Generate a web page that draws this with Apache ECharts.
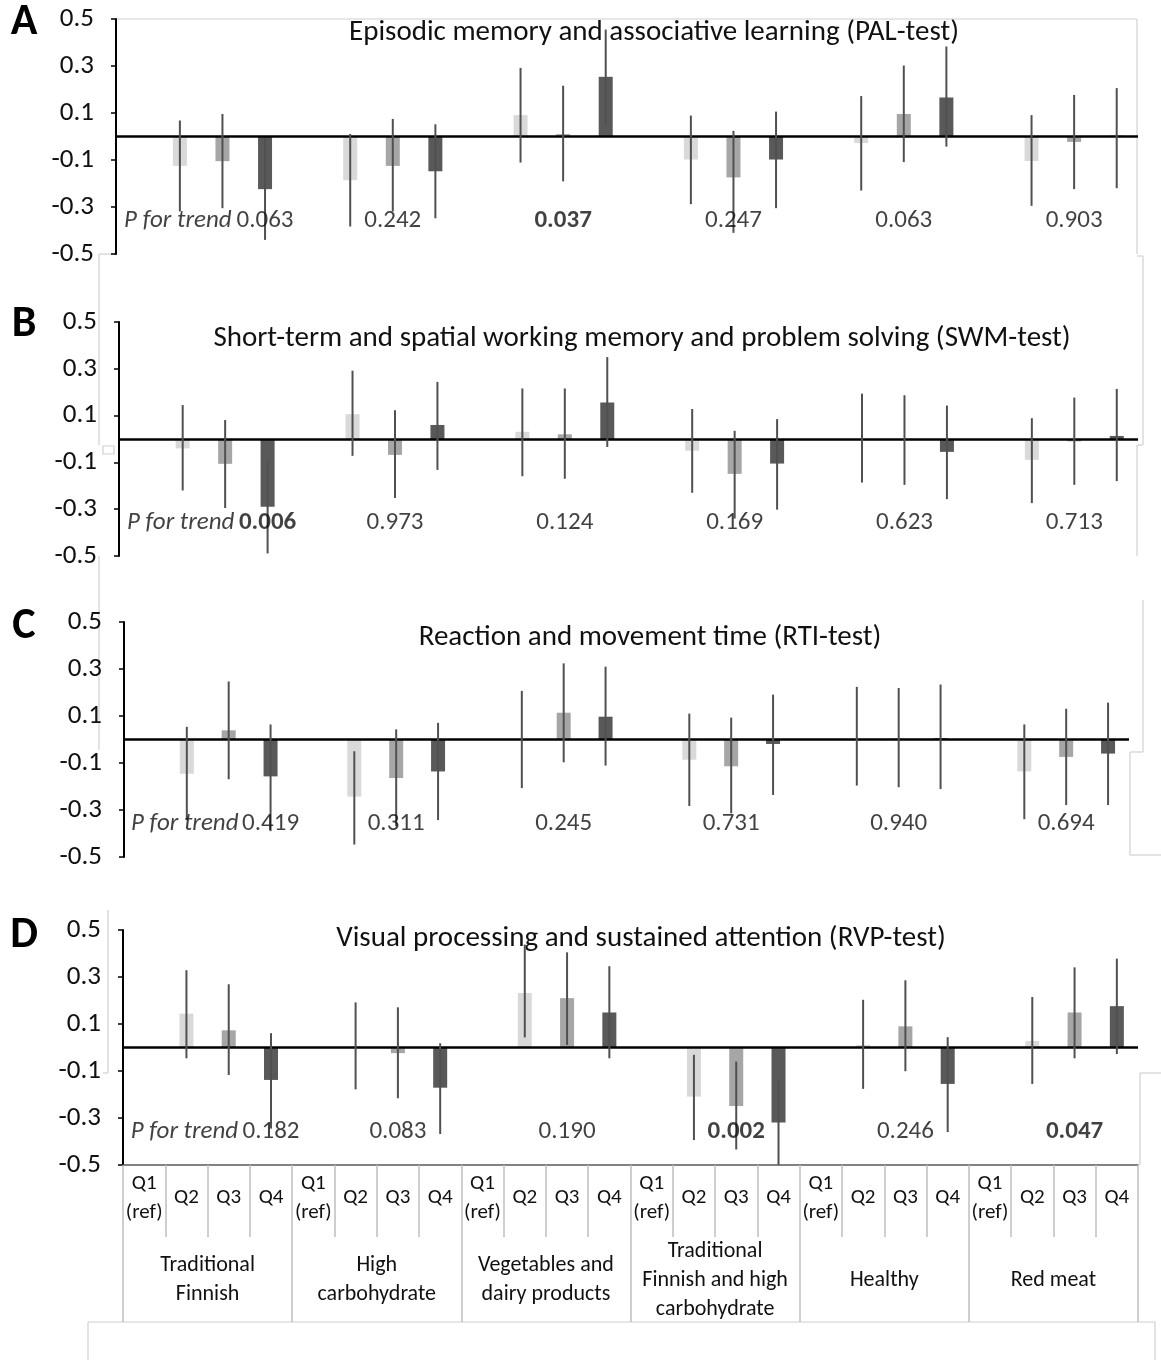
<!DOCTYPE html>
<html>
<head>
<meta charset="utf-8">
<title>Dietary patterns and cognitive tests</title>
<script src="https://cdn.jsdelivr.net/npm/echarts@6/dist/echarts.min.js"></script>
<style>
    html, body { margin: 0; padding: 0; background: #fff; }
    #chart { width: 1161px; height: 1360px; }
</style>
</head>
<body>
<div id="chart"></div>
<script>
// x categories
var quartiles = ['Q1\n(ref)', 'Q2', 'Q3', 'Q4'];
var patterns = ['Traditional\nFinnish', 'High\ncarbohydrate', 'Vegetables and\ndairy products',
    'Traditional\nFinnish and high\ncarbohydrate', 'Healthy', 'Red meat'];

// values per pattern: Q2, Q3, Q4 (Q1 is the reference, no bar)
// A - PAL-test
var palEst  = [-0.125, -0.105, -0.224,  -0.186, -0.125, -0.148,  0.091, 0.010, 0.254,  -0.098, -0.174, -0.098,  -0.028, 0.096, 0.166,  -0.104, -0.023, 0.003];
var palLow  = [-0.319, -0.305, -0.440,  -0.383, -0.319, -0.348,  -0.111, -0.191, 0.050,  -0.288, -0.410, -0.305,  -0.230, -0.109, -0.043,  -0.295, -0.224, -0.220];
var palHigh = [0.068, 0.096, -0.008,  0.011, 0.075, 0.052,  0.292, 0.216, 0.455,  0.089, 0.024, 0.106,  0.172, 0.302, 0.383,  0.091, 0.177, 0.206];
var palP    = ['0.063', '0.242', '0.037', '0.247', '0.063', '0.903'];

// B - SWM-test
var swmEst  = [-0.040, -0.106, -0.290,  0.106, -0.068, 0.060,  0.031, 0.020, 0.156,  -0.050, -0.149, -0.105,  0.000, 0.000, -0.055,  -0.089, -0.010, 0.013];
var swmLow  = [-0.220, -0.295, -0.489,  -0.072, -0.252, -0.132,  -0.159, -0.170, -0.034,  -0.230, -0.340, -0.302,  -0.186, -0.196, -0.257,  -0.274, -0.196, -0.180];
var swmHigh = [0.145, 0.081, -0.090,  0.292, 0.123, 0.244,  0.216, 0.216, 0.350,  0.128, 0.035, 0.085,  0.194, 0.187, 0.143,  0.089, 0.177, 0.214];
var swmP    = ['0.006', '0.973', '0.124', '0.169', '0.623', '0.713'];

// C - RTI-test
var rtiEst  = [-0.146, 0.039, -0.157,  -0.243, -0.164, -0.136,  0.000, 0.114, 0.097,  -0.086, -0.114, -0.019,  0.003, 0.004, 0.006,  -0.136, -0.074, -0.060];
var rtiLow  = [-0.343, -0.169, -0.390,  -0.447, -0.369, -0.343,  -0.207, -0.097, -0.111,  -0.283, -0.314, -0.236,  -0.196, -0.203, -0.211,  -0.339, -0.279, -0.279];
var rtiHigh = [0.054, 0.247, 0.064,  -0.050, 0.043, 0.071,  0.207, 0.324, 0.310,  0.110, 0.093, 0.191,  0.224, 0.219, 0.234,  0.064, 0.131, 0.157];
var rtiP    = ['0.419', '0.311', '0.245', '0.731', '0.940', '0.694'];

// D - RVP-test
var rvpEst  = [0.144, 0.073, -0.138,  0.004, -0.024, -0.171,  0.232, 0.210, 0.149,  -0.209, -0.249, -0.319,  0.011, 0.090, -0.155,  0.028, 0.149, 0.176];
var rvpLow  = [-0.046, -0.117, -0.345,  -0.178, -0.216, -0.368,  0.043, 0.011, -0.046,  -0.394, -0.434, -0.500,  -0.176, -0.101, -0.360,  -0.155, -0.046, -0.028];
var rvpHigh = [0.329, 0.269, 0.061,  0.192, 0.171, 0.018,  0.438, 0.405, 0.346,  -0.031, -0.060, -0.140,  0.203, 0.286, 0.044,  0.215, 0.341, 0.378];
var rvpP    = ['0.182', '0.083', '0.190', '0.002', '0.246', '0.047'];

var FONT = 'Carlito, "Open Sans", sans-serif';
var barColors = [null, '#d9d9d9', '#a6a6a6', '#595959'];
var frame = '#d0d0d0';

var panels = [
    {letter: 'A', title: 'Episodic memory and associative learning (PAL-test)', est: palEst, low: palLow, high: palHigh, p: palP,
        grid: {left: 116, top: 19, width: 1022, height: 235}, tx: 654, ty: 33, ly: 23},
    {letter: 'B', title: 'Short-term and spatial working memory and problem solving (SWM-test)', est: swmEst, low: swmLow, high: swmHigh, p: swmP,
        grid: {left: 119, top: 322, width: 1019, height: 234}, tx: 642, ty: 339, ly: 325},
    {letter: 'C', title: 'Reaction and movement time (RTI-test)', est: rtiEst, low: rtiLow, high: rtiHigh, p: rtiP,
        grid: {left: 124, top: 622, width: 1005, height: 235}, tx: 650, ty: 638, ly: 627},
    {letter: 'D', title: 'Visual processing and sustained attention (RVP-test)', est: rvpEst, low: rvpLow, high: rvpHigh, p: rvpP,
        grid: {left: 123, top: 930, width: 1015, height: 235}, tx: 641, ty: 939, ly: 936}
];

// 24 x categories: pattern x quartile
var cats = [];
patterns.forEach(function () {
    quartiles.forEach(function (q) { cats.push(q); });
});

var option = {
    animation: false,
    textStyle: {fontFamily: FONT},
    grid: [], xAxis: [], yAxis: [], series: [], graphic: []
};

panels.forEach(function (pn, k) {
    option.grid.push(Object.assign({containLabel: false}, pn.grid));

    var isLast = k === panels.length - 1;
    option.xAxis.push({
        gridIndex: k,
        type: 'category',
        data: cats,
        position: 'bottom',
        axisLine: {show: isLast, onZero: false, lineStyle: {color: '#595959', width: 1.5}},
        axisTick: {show: isLast, interval: 0, length: 72, lineStyle: {color: '#bfbfbf', width: 1.5}},
        axisLabel: {show: isLast, interval: 0, margin: 33, verticalAlign: 'middle', lineHeight: 29,
            fontSize: 21, color: '#111', fontFamily: FONT},
        splitLine: {show: false}
    });
    option.yAxis.push({
        gridIndex: k,
        type: 'value',
        min: -0.5, max: 0.5, interval: 0.2,
        axisLine: {show: true, lineStyle: {color: '#000', width: 2}},
        axisTick: {show: true, length: 5, lineStyle: {color: '#000', width: 1.5}},
        axisLabel: {margin: 22, fontSize: 27, color: '#111', fontFamily: FONT,
            formatter: function (v) { return v.toFixed(1); }},
        splitLine: {show: false}
    });

    // bars, one per category, Q1 left empty
    var barData = [], errData = [];
    cats.forEach(function (c, i) {
        var q = i % 4, g = Math.floor(i / 4);
        if (q === 0) { barData.push('-'); return; }
        var j = g * 3 + q - 1;
        barData.push({value: pn.est[j], itemStyle: {color: barColors[q]}});
        errData.push([i, pn.low[j], pn.high[j]]);
    });

    option.series.push({
        type: 'bar',
        xAxisIndex: k, yAxisIndex: k,
        data: barData,
        barWidth: 14,
        markLine: {
            silent: true, symbol: ['none', 'none'], label: {show: false},
            lineStyle: {color: '#000', width: 2.5, type: 'solid'},
            data: [{yAxis: 0}]
        }
    });

    // confidence intervals
    option.series.push({
        type: 'custom',
        xAxisIndex: k, yAxisIndex: k,
        data: errData,
        encode: {x: 0, y: [1, 2]},
        z: 5,
        renderItem: function (params, api) {
            var a = api.coord([api.value(0), api.value(1)]);
            var b = api.coord([api.value(0), api.value(2)]);
            return {
                type: 'line',
                shape: {x1: a[0], y1: a[1], x2: b[0], y2: b[1]},
                style: {stroke: '#505050', lineWidth: 2}
            };
        }
    });

    // P for trend labels
    var pData = [{value: [1, -0.36], label: {formatter: 'P for trend', fontStyle: 'italic', offset: [-2, 0]}}];
    pn.p.forEach(function (p, g) {
        var idx = g === 0 ? 3 : g * 4 + 2;
        pData.push({value: [idx, -0.36], label: {formatter: p, fontWeight: parseFloat(p) < 0.05 ? 'bold' : 'normal'}});
    });
    option.series.push({
        type: 'scatter',
        xAxisIndex: k, yAxisIndex: k,
        symbolSize: 1,
        itemStyle: {color: 'rgba(0,0,0,0)'},
        z: 6,
        label: {show: true, position: 'inside', fontSize: 25, color: '#111', fontFamily: FONT},
        data: pData
    });

    option.graphic.push({
        type: 'text', x: pn.tx, y: pn.ty,
        style: {text: pn.title, font: '29px ' + FONT, fill: '#111', textAlign: 'center', textVerticalAlign: 'middle'}
    });
    option.graphic.push({
        type: 'text', x: 24, y: pn.ly,
        style: {text: pn.letter, font: 'bold 44px ' + FONT, fill: '#000', textAlign: 'center', textVerticalAlign: 'middle'}
    });
});

// second level of the bottom axis: dietary patterns
option.xAxis.push({
    gridIndex: 3,
    type: 'category',
    data: patterns,
    position: 'bottom',
    axisLine: {show: false, onZero: false},
    axisTick: {show: true, interval: 0, length: 157, lineStyle: {color: '#bfbfbf', width: 1.5}},
    axisLabel: {interval: 0, margin: 115, verticalAlign: 'middle', lineHeight: 29,
        fontSize: 22, color: '#111', fontFamily: FONT},
    splitLine: {show: false}
});

// leftover chart-area frames (light grey)
function seg(x1, y1, x2, y2) {
    option.graphic.push({type: 'line', silent: true, shape: {x1: x1, y1: y1, x2: x2, y2: y2},
        style: {stroke: frame, lineWidth: 1.2}});
}
seg(116, 19, 1137, 19);
seg(1137, 19, 1137, 254);
seg(1137, 256, 1143, 256);
seg(1143, 256, 1143, 445);
seg(1137, 445, 1143, 445);
seg(1137, 445, 1137, 556);
seg(99, 254, 116, 254);
seg(99, 254, 99, 445);
option.graphic.push({type: 'rect', silent: true, shape: {x: 103, y: 446, width: 11, height: 8},
    style: {fill: '#fff', stroke: frame, lineWidth: 1.2}});
seg(99, 556, 99, 750);
seg(1143, 600, 1143, 752);
seg(1130, 752, 1143, 752);
seg(1130, 752, 1130, 855);
seg(1130, 855, 1161, 855);
seg(108, 910, 108, 1073);
seg(103, 1073, 108, 1073);
seg(1140, 1073, 1161, 1073);
seg(1140, 1073, 1140, 1165);
seg(88, 1322, 1155, 1322);
seg(88, 1322, 88, 1360);
seg(1155, 1322, 1155, 1360);

var myChart = echarts.init(document.getElementById('chart'));
myChart.setOption(option);
</script>
</body>
</html>
